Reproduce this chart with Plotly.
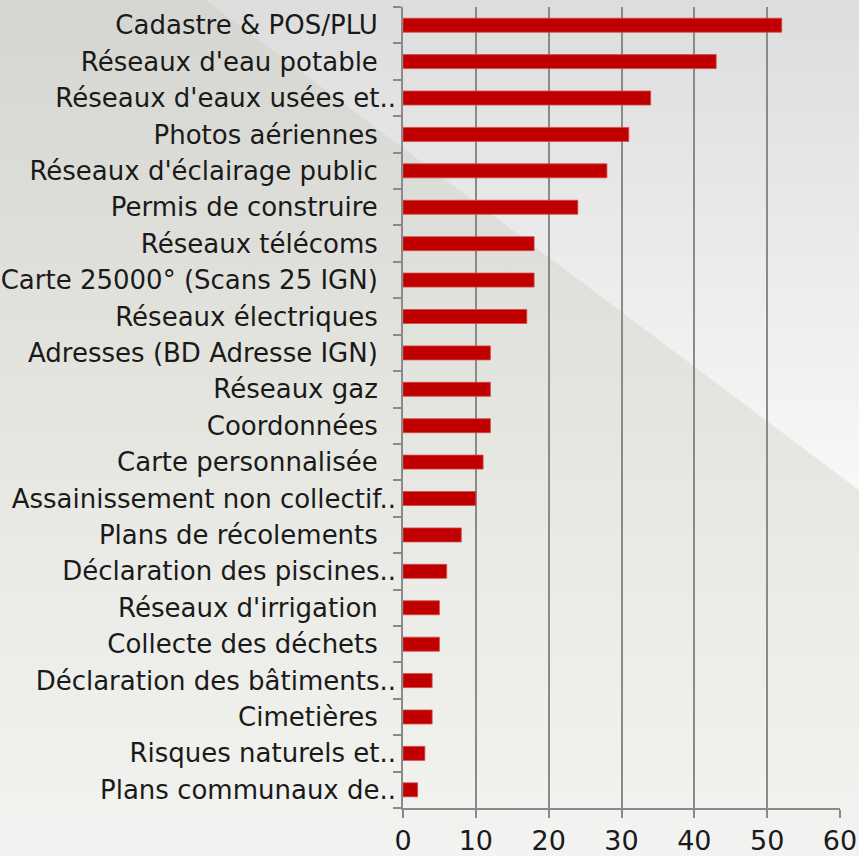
import plotly.graph_objects as go

categories = [
    "Cadastre & POS/PLU",
    "Réseaux d'eau potable",
    "Réseaux d'eaux usées et..",
    "Photos aériennes",
    "Réseaux d'éclairage public",
    "Permis de construire",
    "Réseaux télécoms",
    "Carte 25000° (Scans 25 IGN)",
    "Réseaux électriques",
    "Adresses (BD Adresse IGN)",
    "Réseaux gaz",
    "Coordonnées",
    "Carte personnalisée",
    "Assainissement non collectif..",
    "Plans de récolements",
    "Déclaration des piscines..",
    "Réseaux d'irrigation",
    "Collecte des déchets",
    "Déclaration des bâtiments..",
    "Cimetières",
    "Risques naturels et..",
    "Plans communaux de..",
]
values = [52, 43, 34, 31, 28, 24, 18, 18, 17, 12, 12, 12, 11, 10, 8, 6, 5, 5, 4, 4, 3, 2]
x_ticks = [0, 10, 20, 30, 40, 50, 60]

W, H = 859, 856

# tick labels: non-truncated labels get a trailing fixed-width space so that
# the ".." of truncated labels overhangs, like in the reference
ticktext = [c if c.endswith("..") else c + "\u2002\u2009" for c in categories]

fig = go.Figure()

# ---- background (decorative) on a full-page hidden subplot ----
fig.add_trace(go.Scatter(
    x=[0, 206, 859, 859, 0, 0], y=[0, 0, 490, 856, 856, 0],
    mode="lines", line=dict(width=0), fill="toself",
    fillgradient=dict(type="vertical", start=0, stop=856,
                      colorscale=[[0, "#d5d6d1"], [0.5, "#e6e6e1"], [1, "#f3f3f1"]]),
    hoverinfo="skip", showlegend=False, xaxis="x", yaxis="y"))
fig.add_trace(go.Scatter(
    x=[206, 859, 859, 206], y=[0, 0, 490, 0],
    mode="lines", line=dict(width=0), fill="toself",
    fillgradient=dict(type="vertical", start=0, stop=490,
                      colorscale=[[0, "#dddddd"], [1, "#f8f8f8"]]),
    hoverinfo="skip", showlegend=False, xaxis="x", yaxis="y"))

# ---- bars ----
fig.add_trace(go.Bar(
    x=values, y=categories, orientation="h",
    marker=dict(color="#c00000", line=dict(color="#d44a4a", width=0.8)),
    xaxis="x2", yaxis="y2", showlegend=False))

grid_col = "#8a8a8a"
fig.update_layout(
    template="none",
    width=W, height=H,
    margin=dict(l=0, r=0, t=0, b=0, pad=0, autoexpand=False),
    paper_bgcolor="#ececea",
    plot_bgcolor="rgba(0,0,0,0)",
    bargap=0.615,
    xaxis=dict(domain=[0, 1], range=[0, W], visible=False, fixedrange=True,
               automargin=False),
    yaxis=dict(domain=[0, 1], range=[H, 0], visible=False, fixedrange=True,
               automargin=False),
    xaxis2=dict(
        domain=[403 / W, 840 / W], anchor="y2", range=[0, 60],
        tickvals=x_ticks, ticktext=[str(v) for v in x_ticks],
        showgrid=True, gridcolor=grid_col, gridwidth=1.5,
        showline=True, linecolor=grid_col, linewidth=1.5,
        ticks="outside", ticklen=8, tickcolor=grid_col, tickwidth=1.5,
        tickfont=dict(family="DejaVu Sans", size=27, color="#1a1a1a"),
        ticklabelstandoff=0, zeroline=False, automargin=False,
    ),
    yaxis2=dict(
        domain=[(H - 808) / H, (H - 7) / H], anchor="x2",
        categoryorder="array", categoryarray=categories,
        autorange="reversed",
        tickmode="array", tickvals=categories, ticktext=ticktext,
        tickson="boundaries",
        showline=True, linecolor=grid_col, linewidth=1.5,
        ticks="outside", ticklen=8, tickcolor=grid_col, tickwidth=1.5,
        tickfont=dict(family="DejaVu Sans", size=26, color="#1a1a1a"),
        showgrid=False, zeroline=False, automargin=False,
    ),
)

fig.write_html(
    "out.html",
    config={"displayModeBar": False},
    post_script="document.body.style.margin='0';document.body.style.overflow='hidden';",
)
